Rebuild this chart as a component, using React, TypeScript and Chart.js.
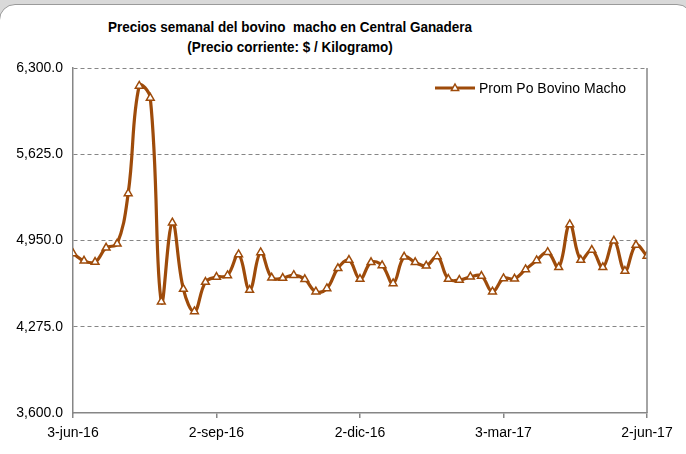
import React, { useEffect, useRef } from "react";
import { Chart, registerables } from "chart.js";

Chart.register(...registerables);

const titleLines = [
  "Precios semanal del bovino  macho en Central Ganadera",
  "(Precio corriente: $ / Kilogramo)",
];
const seriesName = "Prom Po Bovino Macho";
const tickLabels = ["3-jun-16", "2-sep-16", "2-dic-16", "3-mar-17", "2-jun-17"];
const weeksPerTick = 13;
const prices = [
  4849, 4791, 4781, 4893, 4924, 5318, 6160, 6066, 4471, 5089, 4570, 4395, 4625,
  4664, 4677, 4841, 4562, 4857, 4658, 4656, 4679, 4646, 4549, 4575, 4732, 4797,
  4648, 4779, 4755, 4614, 4822, 4779, 4752, 4825, 4648, 4640, 4666, 4672, 4549,
  4653, 4650, 4724, 4794, 4859, 4740, 5076, 4797, 4875, 4740, 4948, 4711, 4914,
  4828,
];
const yMin = 3600;
const yMax = 6300;
const yStep = 675;

const LINE = "#9E4B0A";
const AXIS = "#868686";
const FONT = "'Liberation Sans', Arial, sans-serif";

const legendPlugin = {
  id: "insideLegend",
  afterDraw(chart: any) {
    const { ctx, chartArea } = chart;
    const x0 = chartArea.right - 212;
    const y = chartArea.top + 20;
    ctx.save();
    ctx.strokeStyle = LINE;
    ctx.lineWidth = 3;
    ctx.beginPath();
    ctx.moveTo(x0, y);
    ctx.lineTo(x0 + 40, y);
    ctx.stroke();
    const cx = x0 + 20;
    const r = 4;
    ctx.beginPath();
    ctx.moveTo(cx, y - r);
    ctx.lineTo(cx + r * 0.9, y + r * 0.6);
    ctx.lineTo(cx - r * 0.9, y + r * 0.6);
    ctx.closePath();
    ctx.fillStyle = "#fff";
    ctx.fill();
    ctx.lineWidth = 1.5;
    ctx.stroke();
    ctx.fillStyle = "#000";
    ctx.font = `14px ${FONT}`;
    ctx.textBaseline = "middle";
    ctx.fillText(seriesName, x0 + 44, y + 1);
    ctx.restore();
  },
};

const framePlugin = {
  id: "rightFrame",
  afterDraw(chart: any) {
    const { ctx, chartArea } = chart;
    ctx.save();
    ctx.strokeStyle = AXIS;
    ctx.lineWidth = 1.5;
    ctx.beginPath();
    ctx.moveTo(chartArea.right, chartArea.top);
    ctx.lineTo(chartArea.right, chartArea.bottom);
    ctx.stroke();
    ctx.restore();
  },
};

export default function App() {
  const ref = useRef<HTMLCanvasElement>(null);
  useEffect(() => {
    document.body.style.margin = "0";
    const chart = new Chart(ref.current!, {
      type: "line",
      data: {
        datasets: [
          {
            label: seriesName,
            data: prices.map((v, i) => ({ x: i, y: v })),
            borderColor: LINE,
            borderWidth: 3.2,
            tension: 0.4,
            pointStyle: "triangle",
            pointRadius: 4.5,
            pointBorderWidth: 1.5,
            pointBackgroundColor: "#fff",
            pointBorderColor: LINE,
          },
        ],
      },
      options: {
        animation: false,
        responsive: false,
        layout: { padding: { left: 0, right: 39, top: 68, bottom: 0 } },
        plugins: {
          legend: { display: false },
          tooltip: { enabled: false },
          title: { display: false },
        },
        scales: {
          x: {
            type: "linear",
            min: 0,
            max: prices.length - 1,
            afterFit(scale: any) {
              scale.height = 41;
            },
            afterBuildTicks(scale: any) {
              scale.ticks = tickLabels.map((_, i) => ({ value: i * weeksPerTick }));
            },
            ticks: {
              callback: (v: any) => tickLabels[Math.round(Number(v) / weeksPerTick)] ?? "",
              color: "#000",
              font: { family: FONT, size: 14 },
              padding: 7,
              maxRotation: 0,
              autoSkip: false,
            },
            grid: {
              drawOnChartArea: false,
              drawTicks: true,
              tickLength: 5,
              color: AXIS,
              lineWidth: 1.5,
            },
            border: { color: AXIS, width: 1.5 },
          },
          y: {
            min: yMin,
            max: yMax,
            afterFit(scale: any) {
              scale.width = 73;
            },
            ticks: {
              stepSize: yStep,
              callback: (v: any) =>
                Number(v).toLocaleString("en-US", {
                  minimumFractionDigits: 1,
                  maximumFractionDigits: 1,
                }),
              color: "#000",
              font: { family: FONT, size: 14 },
              padding: 10,
            },
            grid: {
              color: (c: any) => (c.tick && c.tick.value === yMin ? "rgba(0,0,0,0)" : AXIS),
              lineWidth: 1,
              drawTicks: false,
            },
            border: { color: AXIS, width: 1.5, dash: [4, 3] },
          },
        },
      },
      plugins: [legendPlugin, framePlugin],
    });
    return () => chart.destroy();
  }, []);

  return (
    <div
      style={{
        position: "relative",
        width: 686,
        height: 454,
        overflow: "hidden",
        background: "#d9d9d9",
        fontFamily: FONT,
      }}
    >
      <div
        style={{
          position: "absolute",
          left: -1,
          top: 4,
          width: 692,
          height: 470,
          border: "1.5px solid #9a9a9a",
          borderRadius: 16,
          background: "#fff",
        }}
      />
      <div
        style={{
          position: "absolute",
          left: 0,
          top: 17,
          width: 580,
          textAlign: "center",
          fontWeight: "bold",
          fontSize: 15.5,
          lineHeight: "20px",
          color: "#000",
          transform: "scaleX(0.87)",
          transformOrigin: "290px 0",
          whiteSpace: "pre",
        }}
      >
        {titleLines.map((t, i) => (
          <div key={i}>{t}</div>
        ))}
      </div>
      <canvas
        ref={ref}
        width={686}
        height={454}
        style={{ position: "absolute", left: 0, top: 0 }}
      />
    </div>
  );
}
